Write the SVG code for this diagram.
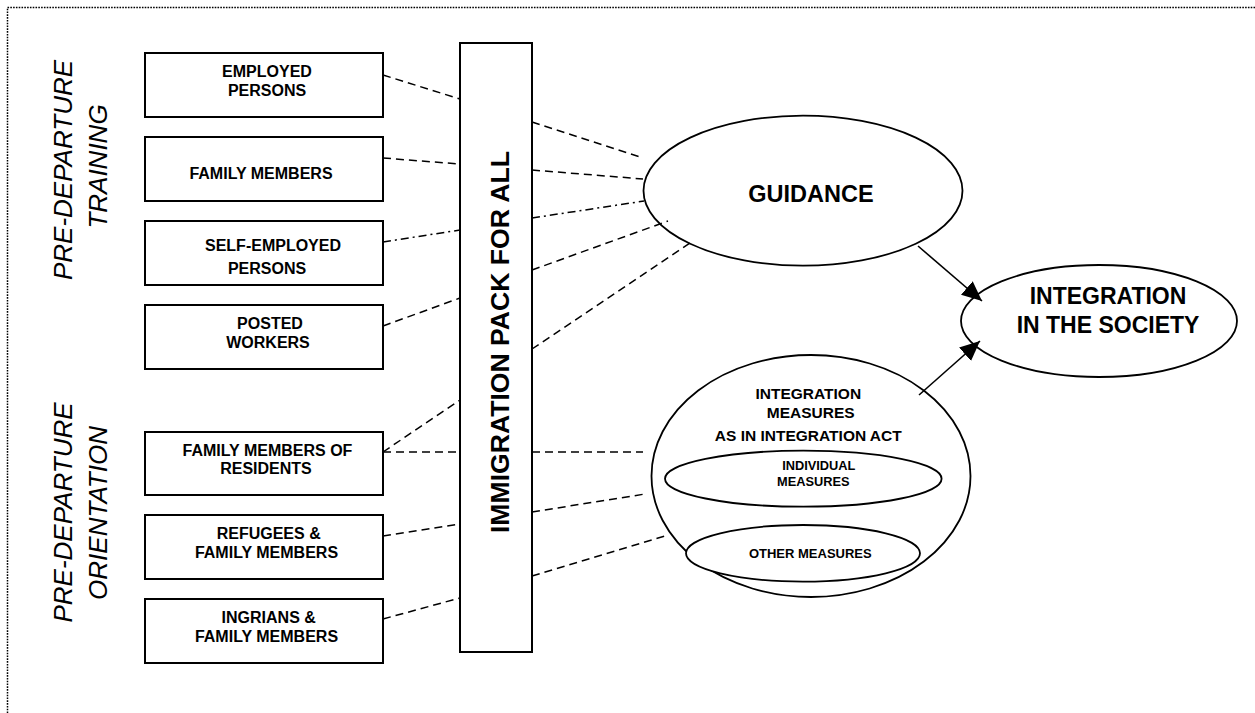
<svg xmlns="http://www.w3.org/2000/svg" width="1255" height="713" viewBox="0 0 1255 713">
<defs>
<style>
.box{fill:#fff;stroke:#000;stroke-width:2}
.ell{fill:none;stroke:#000;stroke-width:1.8}
.bt{font-family:"Liberation Sans",Arial,sans-serif;font-weight:bold;font-size:16px;text-anchor:middle;fill:#000}
.vt{font-family:"Liberation Sans",Arial,sans-serif;font-style:italic;font-size:26px;text-anchor:middle;fill:#000}
.dash{stroke:#000;stroke-width:1.5;fill:none;stroke-dasharray:8,5}
.dd{stroke:#000;stroke-width:1.5;fill:none;stroke-dasharray:8,4,2,4}
.arr{stroke:#000;stroke-width:1.6;fill:none;marker-end:url(#ah)}
</style>
<marker id="ah" markerUnits="userSpaceOnUse" markerWidth="20" markerHeight="18" viewBox="0 0 20 18" refX="20" refY="9" orient="auto">
<path d="M0,0 L20,9 L0,18 z" fill="#000"/>
</marker>
</defs>
<rect width="1255" height="713" fill="#fff"/>
<rect x="7.5" y="7.5" width="1300" height="800" fill="none" stroke="#000" stroke-width="1.5" stroke-dasharray="1.6,1.2"/>

<g id="label-training">
<text class="vt" transform="translate(72,170) rotate(-90)">PRE-DEPARTURE</text>
<text class="vt" transform="translate(107,166.5) rotate(-90)">TRAINING</text>
</g>
<g id="label-orientation">
<text class="vt" transform="translate(72,512.5) rotate(-90)">PRE-DEPARTURE</text>
<text class="vt" transform="translate(107,513) rotate(-90)">ORIENTATION</text>
</g>

<g id="connectors">
<line class="dash" x1="383" y1="75" x2="460" y2="99"/>
<line class="dash" x1="383" y1="158" x2="460" y2="164"/>
<line class="dd" x1="383" y1="242" x2="460" y2="230"/>
<line class="dash" x1="383" y1="326" x2="460" y2="298"/>
<line class="dash" x1="383" y1="452" x2="460" y2="400"/>
<line class="dash" x1="383" y1="452" x2="460" y2="452"/>
<line class="dash" x1="383" y1="536" x2="460" y2="524"/>
<line class="dash" x1="383" y1="619" x2="460" y2="598"/>
<line class="dash" x1="532" y1="122" x2="640" y2="157"/>
<line class="dash" x1="532" y1="170" x2="643" y2="179"/>
<line class="dd" x1="532" y1="218" x2="644" y2="201"/>
<line class="dash" x1="532" y1="270" x2="668" y2="221"/>
<line class="dash" x1="532" y1="349" x2="690" y2="243"/>
<line class="dash" x1="532" y1="452" x2="643" y2="452"/>
<line class="dash" x1="532" y1="512" x2="645" y2="494"/>
<line class="dash" x1="532" y1="576" x2="668" y2="535"/>
<line class="arr" x1="918" y1="246" x2="982" y2="301"/>
<line class="arr" x1="919" y1="395" x2="980" y2="341"/>
</g>

<g id="box-employed">
<rect class="box" x="145" y="53" width="238" height="64"/>
<text class="bt" x="267" y="76.5">EMPLOYED</text>
<text class="bt" x="267" y="95.5">PERSONS</text>
</g>
<g id="box-family">
<rect class="box" x="145" y="137" width="238" height="64"/>
<text class="bt" x="261" y="179">FAMILY MEMBERS</text>
</g>
<g id="box-self">
<rect class="box" x="145" y="221" width="238" height="64"/>
<text class="bt" x="273" y="250.5">SELF-EMPLOYED</text>
<text class="bt" x="267" y="274">PERSONS</text>
</g>
<g id="box-posted">
<rect class="box" x="145" y="305" width="238" height="64"/>
<text class="bt" x="270" y="329.3">POSTED</text>
<text class="bt" x="268" y="347.7">WORKERS</text>
</g>
<g id="box-residents">
<rect class="box" x="145" y="432" width="238" height="63"/>
<text class="bt" x="267.5" y="455.7">FAMILY MEMBERS OF</text>
<text class="bt" x="266" y="474.3">RESIDENTS</text>
</g>
<g id="box-refugees">
<rect class="box" x="145" y="515" width="238" height="64"/>
<text class="bt" x="268.7" y="539.3">REFUGEES &amp;</text>
<text class="bt" x="266.5" y="558">FAMILY MEMBERS</text>
</g>
<g id="box-ingrians">
<rect class="box" x="145" y="599" width="238" height="64"/>
<text class="bt" x="268.7" y="623.3">INGRIANS &amp;</text>
<text class="bt" x="266.5" y="642">FAMILY MEMBERS</text>
</g>

<g id="immigration-pack">
<rect class="box" x="460" y="43" width="72" height="609"/>
<text transform="translate(509,342) rotate(-90)" font-family="Liberation Sans, Arial, sans-serif" font-weight="bold" font-size="26.6" text-anchor="middle">IMMIGRATION PACK FOR ALL</text>
</g>

<g id="guidance">
<ellipse class="ell" cx="803" cy="190.7" rx="159.5" ry="75"/>
<text x="811" y="201.7" font-family="Liberation Sans, Arial, sans-serif" font-weight="bold" font-size="23.5" text-anchor="middle">GUIDANCE</text>
</g>

<g id="integration-society">
<ellipse class="ell" cx="1099" cy="321" rx="138" ry="56"/>
<text x="1108" y="304" font-family="Liberation Sans, Arial, sans-serif" font-weight="bold" font-size="23" text-anchor="middle">INTEGRATION</text>
<text x="1108" y="333.3" font-family="Liberation Sans, Arial, sans-serif" font-weight="bold" font-size="23" text-anchor="middle">IN THE SOCIETY</text>
</g>

<g id="integration-measures">
<ellipse class="ell" cx="811" cy="476" rx="159.5" ry="121"/>
<text x="808.3" y="399.3" font-family="Liberation Sans, Arial, sans-serif" font-weight="bold" font-size="15.5" text-anchor="middle">INTEGRATION</text>
<text x="810.7" y="417.7" font-family="Liberation Sans, Arial, sans-serif" font-weight="bold" font-size="15.5" text-anchor="middle">MEASURES</text>
<text x="808.3" y="441" font-family="Liberation Sans, Arial, sans-serif" font-weight="bold" font-size="15.5" text-anchor="middle">AS IN INTEGRATION ACT</text>
</g>
<g id="individual-measures">
<ellipse class="ell" cx="803.3" cy="478.7" rx="138.3" ry="28" style="fill:#fff"/>
<text x="818.8" y="470" font-family="Liberation Sans, Arial, sans-serif" font-weight="bold" font-size="12.8" text-anchor="middle">INDIVIDUAL</text>
<text x="813.3" y="486" font-family="Liberation Sans, Arial, sans-serif" font-weight="bold" font-size="12.8" text-anchor="middle">MEASURES</text>
</g>
<g id="other-measures">
<ellipse class="ell" cx="803" cy="553.3" rx="117" ry="28.3" style="fill:#fff"/>
<text x="810.3" y="558.3" font-family="Liberation Sans, Arial, sans-serif" font-weight="bold" font-size="13" text-anchor="middle">OTHER MEASURES</text>
</g>
</svg>
